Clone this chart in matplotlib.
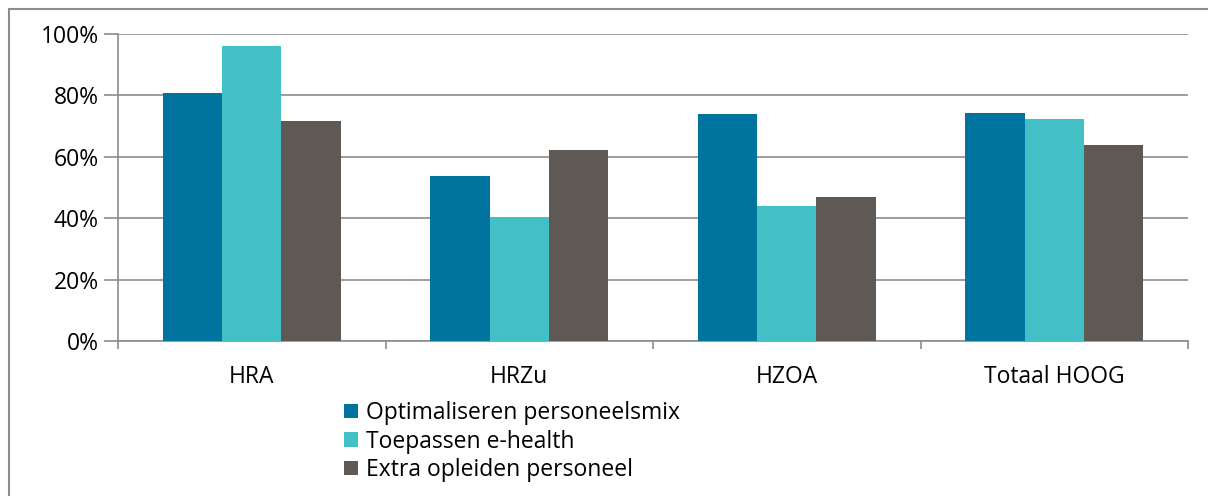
import matplotlib
matplotlib.use("Agg")
import matplotlib.pyplot as plt
from matplotlib.patches import Rectangle, Patch
import numpy as np

categories = ["HRA", "HRZu", "HZOA", "Totaal HOOG"]
series_names = ["Optimaliseren personeelsmix", "Toepassen e-health", "Extra opleiden personeel"]
optimaliseren = [80.8, 53.7, 73.9, 74.3]
ehealth = [96.1, 40.4, 44.0, 72.3]
opleiden = [71.7, 62.2, 46.9, 63.8]
colors = ["#00739E", "#42C0C6", "#5E5955"]
yticks = [0, 20, 40, 60, 80, 100]

W, H = 1208, 496
plt.rcParams['font.family'] = ['Open Sans', 'DejaVu Sans']
FS = 16.5
fig = plt.figure(figsize=(W/100, H/100), dpi=100)

# outer frame
fig.patches.append(Rectangle((9/W, -0.1), 1.2, 1 - 9/H + 0.1, transform=fig.transFigure,
                             fill=False, edgecolor="#8C8C8C", linewidth=1.5))

ax = fig.add_axes([118/W, 1 - 341/H, (1188-118)/W, (341-34)/H])
x = np.arange(len(categories))
bw = 0.2222
for i, (vals, c, name) in enumerate(zip([optimaliseren, ehealth, opleiden], colors, series_names)):
    ax.bar(x + (i-1)*bw, vals, width=bw, color=c, label=name, zorder=3)

ax.set_xlim(-0.5, len(categories)-0.5)
ax.set_ylim(0, 100)
ax.set_yticks(yticks)
ax.set_yticklabels([f"{t}%" for t in yticks], fontsize=FS)
ax.yaxis.grid(True, color="#8C8C8C", linewidth=1.2, zorder=0)
ax.set_axisbelow(True)
for s in ["top", "right"]:
    ax.spines[s].set_visible(False)
for s in ["left", "bottom"]:
    ax.spines[s].set_color("#8C8C8C")
    ax.spines[s].set_linewidth(1.2)
ax.tick_params(axis="y", length=10, color="#8C8C8C", width=1.2, pad=4, labelcolor="black")
ax.set_xticks(np.arange(-0.5, len(categories), 1.0))
ax.set_xticklabels([])
ax.tick_params(axis="x", length=6, color="#8C8C8C", width=1.2)
ax.set_xticks(x, minor=True)
ax.set_xticklabels(categories, minor=True, fontsize=FS)
ax.tick_params(axis="x", which="minor", length=0, pad=17)

handles = [Patch(facecolor=c, edgecolor="none") for c in colors]
fig.legend(handles, series_names, loc="upper left", bbox_to_anchor=(344/W, 1 - 401/H),
           frameon=False, fontsize=FS, handlelength=0.6, handleheight=0.6,
           handletextpad=0.35, labelspacing=0.2, borderaxespad=0, borderpad=0)

fig.savefig("out.png", dpi=100)
